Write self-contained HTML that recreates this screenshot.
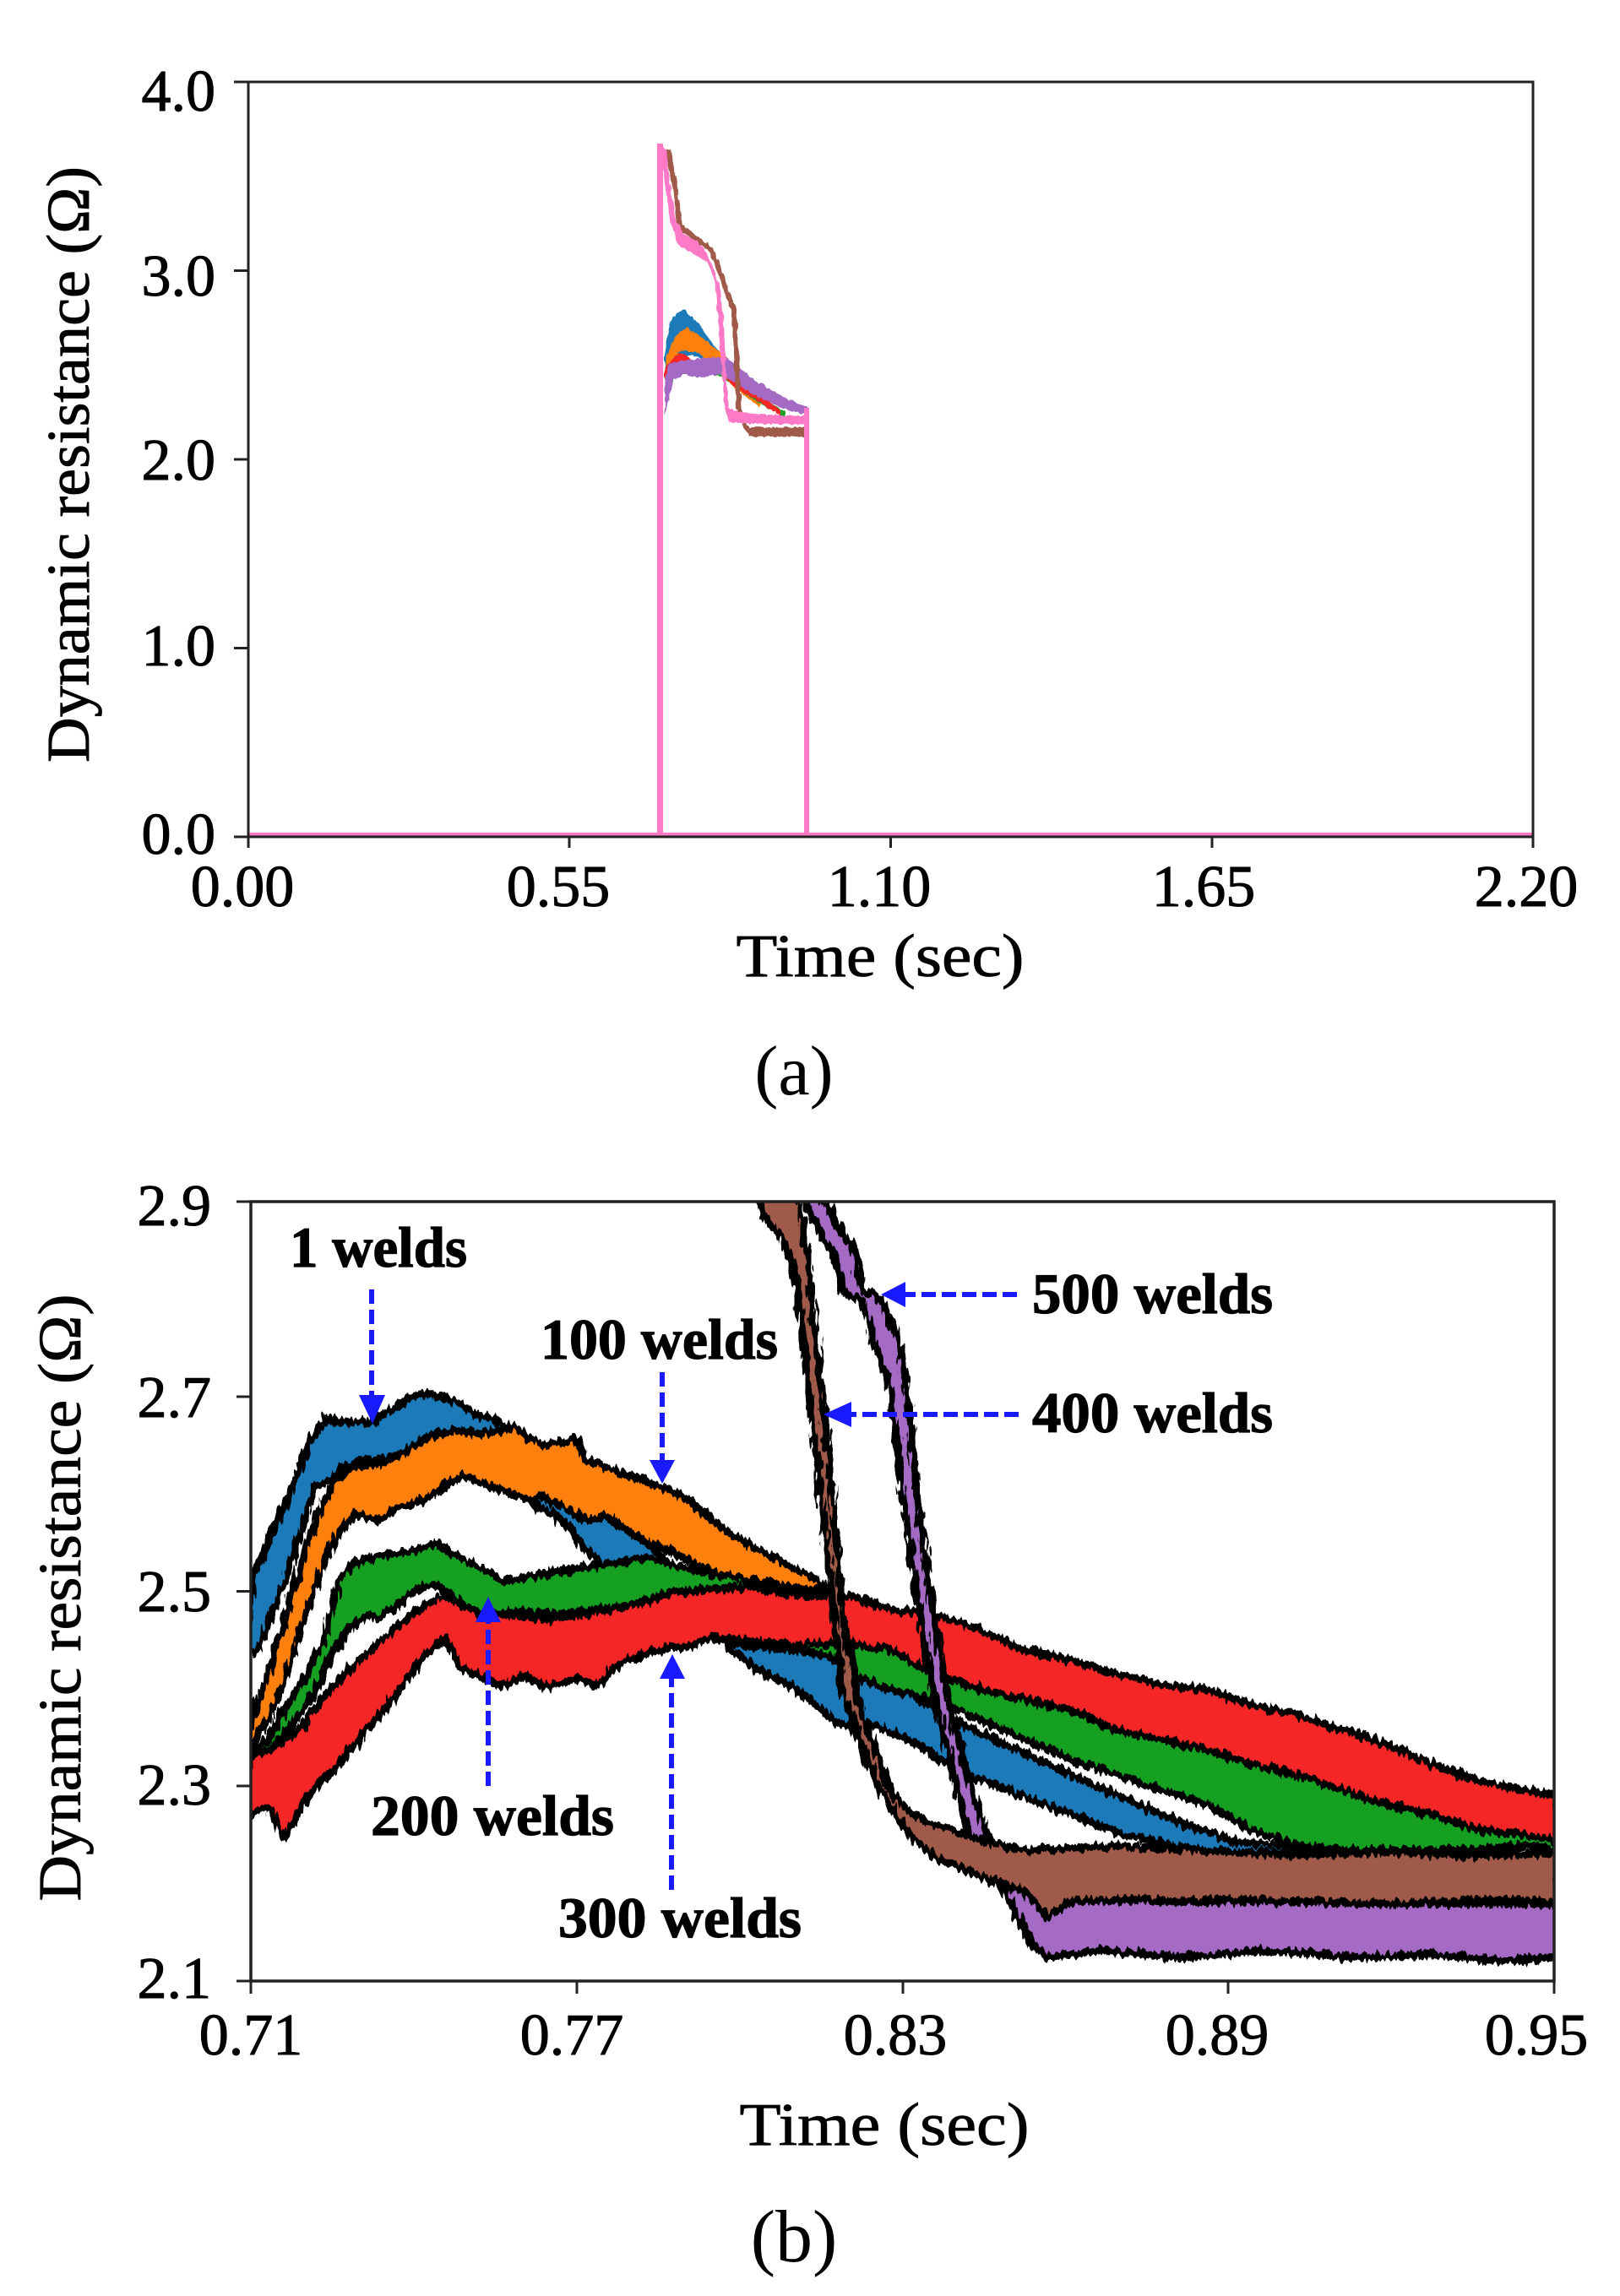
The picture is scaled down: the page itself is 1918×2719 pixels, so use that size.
<!DOCTYPE html>
<html><head><meta charset="utf-8"><style>html,body{margin:0;padding:0;background:#fff}svg{display:block}svg text{font-family:"Liberation Serif","Times New Roman",serif}</style></head>
<body>
<svg width="1918" height="2719" viewBox="0 0 1918 2719" xmlns="http://www.w3.org/2000/svg">
<defs>
<clipPath id="ca"><rect x="294" y="97" width="1521" height="894"/></clipPath>
<clipPath id="cb"><rect x="297" y="1423" width="1543" height="923"/></clipPath>
<filter id="jag" filterUnits="userSpaceOnUse" x="250" y="1380" width="1650" height="1000">
<feTurbulence type="fractalNoise" baseFrequency="0.22 0.05" numOctaves="2" seed="3" result="n"/>
<feDisplacementMap in="SourceGraphic" in2="n" scale="14" xChannelSelector="R" yChannelSelector="G"/>
</filter>
<filter id="jag2" filterUnits="userSpaceOnUse" x="700" y="100" width="400" height="500">
<feTurbulence type="fractalNoise" baseFrequency="0.3 0.1" numOctaves="1" seed="5" result="n"/>
<feDisplacementMap in="SourceGraphic" in2="n" scale="5" xChannelSelector="R" yChannelSelector="G"/>
</filter>
</defs>
<rect width="1918" height="2719" fill="#fff"/>

<!-- ============ PLOT A ============ -->
<g clip-path="url(#ca)">
<line x1="294" y1="988" x2="1815" y2="988" stroke="#ff7ac6" stroke-width="4"/>
<g filter="url(#jag2)">
<polygon fill="#1f7ab8" points="787,417 793,380 800,372 810,366 818,375 827,383 843,407 855,420 860,425 860,440 840,430 820,420 800,425 787,440"/>
<polygon fill="#ff8010" points="788,423 800,397 813,388 827,397 847,413 860,423 880,450 900,475 900,482 870,460 850,440 827,418 807,414 790,433 788,445"/>
<polygon fill="#16a020" points="787,445 800,428 820,432 853,428 870,447 900,470 930,488 930,495 900,478 870,458 853,445 820,440 800,447 787,470"/>
<polygon fill="#f52626" points="787,437 800,420 808,418 820,427 835,425 853,423 867,443 893,463 920,483 925,486 925,493 920,490 893,472 867,457 853,440 830,435 815,438 800,440 787,460"/>
<polygon fill="#a46ac4" points="787,450 793,430 810,427 843,423 860,423 873,433 893,450 927,470 957,483 957,492 927,484 893,468 873,455 853,443 827,447 810,443 797,450 787,492"/>
<polyline fill="none" stroke="#a05a48" stroke-width="6" points="791,177 798,215 805,268 822,281 842,296 850,315 862,350 869,367 872,430 875,483 882,505 889,512 952,512"/>
<rect x="887" y="506" width="66" height="11" fill="#a05a48"/>
<polygon fill="#ff7ac6" points="780,170 790,180 793,217 800,260 810,277 827,287 837,300 847,323 853,343 857,383 860,450 863,483 873,487 893,490 927,492 953,492 953,503 927,502 893,502 863,500 858,483 853,417 847,337 837,310 820,300 803,290 793,260 787,217 785,200"/>
</g>
<rect x="778" y="170" width="7" height="821" fill="#ff7ac6"/>
<rect x="952" y="483" width="6" height="508" fill="#ff7ac6"/>
</g>
<rect x="294" y="97" width="1521" height="894" fill="none" stroke="#222" stroke-width="3"/>
<g stroke="#222" stroke-width="3">
<line x1="277" y1="97" x2="294" y2="97"/><line x1="277" y1="320.5" x2="294" y2="320.5"/><line x1="277" y1="544" x2="294" y2="544"/><line x1="277" y1="767.5" x2="294" y2="767.5"/><line x1="277" y1="991" x2="294" y2="991"/>
<line x1="294" y1="991" x2="294" y2="1004"/><line x1="674" y1="991" x2="674" y2="1004"/><line x1="1054.5" y1="991" x2="1054.5" y2="1004"/><line x1="1435" y1="991" x2="1435" y2="1004"/><line x1="1815" y1="991" x2="1815" y2="1004"/>
</g>
<g font-size="70" fill="#000" stroke="#000" stroke-width="1" text-anchor="end">
<text x="255" y="131">4.0</text><text x="255" y="350">3.0</text><text x="255" y="568">2.0</text><text x="255" y="788">1.0</text><text x="255" y="1011">0.0</text>
</g>
<g font-size="70" fill="#000" stroke="#000" stroke-width="1" text-anchor="middle">
<text x="287" y="1073">0.00</text><text x="661" y="1073">0.55</text><text x="1041" y="1073">1.10</text><text x="1425" y="1073">1.65</text><text x="1807" y="1073">2.20</text>
</g>
<text x="1042" y="1156" font-size="72" text-anchor="middle" textLength="341" lengthAdjust="spacingAndGlyphs" stroke="#000" stroke-width="0.8">Time (sec)</text>
<text transform="translate(105,550) rotate(-90)" font-size="72" text-anchor="middle" textLength="706" lengthAdjust="spacingAndGlyphs" stroke="#000" stroke-width="0.8">Dynamic resistance (Ω)</text>
<text x="940" y="1296" font-size="84" text-anchor="middle">(a)</text>

<!-- ============ PLOT B ============ -->
<g clip-path="url(#cb)">
<g filter="url(#jag)" stroke="#000" stroke-width="9" stroke-linejoin="round">
<polygon fill="#1f7ab8" points="297,1872 317,1828 337,1783 352,1747 367,1707 386,1680 416,1685 441,1683 466,1667 496,1649 516,1654 536,1658 565,1676 585,1680 610,1700 660,1730 720,1790 780,1840 840,1890 900,1930 960,1950 1021,1975 1129,2037 1268,2102 1375,2149 1456,2180 1550,2190 1700,2195 1845,2195 1845,2240 1700,2235 1525,2205 1429,2195 1322,2170 1214,2128 1134,2098 1080,2062 1032,2042 993,2042 943,2000 893,1975 850,1940 800,1900 719,1857 695,1837 675,1810 655,1792 635,1783 600,1756 546,1742 501,1712 466,1725 446,1729 426,1729 406,1738 391,1752 372,1761 347,1845 327,1899 307,1952 292,1960"/>
<polygon fill="#ff8010" points="292,2050 317,1984 337,1917 357,1850 377,1792 396,1752 416,1738 446,1734 471,1725 496,1707 516,1698 546,1694 565,1698 595,1694 610,1689 625,1703 645,1712 680,1703 695,1729 719,1738 744,1747 769,1756 794,1765 819,1779 844,1801 869,1819 893,1832 918,1845 943,1859 968,1872 975,1880 968,1884 943,1880 893,1874 844,1863 819,1850 794,1837 769,1828 744,1814 719,1796 695,1801 670,1787 645,1774 620,1774 595,1765 570,1756 546,1747 521,1765 496,1779 471,1787 446,1801 421,1792 396,1823 372,1881 347,1961 322,2028 292,2077"/>
<polygon fill="#16a020" points="292,2077 317,2060 337,2024 362,1984 386,1935 401,1872 416,1854 436,1845 461,1841 486,1837 516,1828 536,1841 565,1854 595,1872 620,1868 645,1863 675,1859 705,1854 734,1850 764,1845 789,1850 819,1859 844,1863 869,1868 893,1872 943,1881 978,1886 1000,1905 1054,1925 1107,1932 1161,1950 1214,1974 1268,1986 1322,2003 1375,2015 1429,2021 1482,2039 1536,2051 1590,2069 1643,2086 1697,2110 1750,2128 1804,2140 1845,2146 1845,2191 1804,2185 1750,2191 1643,2191 1590,2191 1536,2185 1482,2167 1429,2137 1375,2120 1322,2102 1268,2084 1214,2060 1161,2037 1107,2013 1054,2001 1021,1989 978,1960 943,1955 893,1950 844,1940 794,1912 764,1905 734,1903 695,1908 645,1912 615,1908 585,1912 555,1908 536,1890 516,1877 496,1881 461,1908 446,1917 436,1912 416,1926 396,1952 372,2006 347,2042 322,2068 292,2095"/>
<polygon fill="#f52626" points="292,2082 327,2068 357,2046 386,2006 416,1975 446,1948 476,1921 506,1899 526,1890 546,1899 565,1912 595,1912 645,1917 695,1912 734,1903 769,1895 794,1886 844,1881 893,1879 943,1890 1000,1888 1054,1906 1107,1912 1161,1930 1214,1954 1268,1966 1322,1983 1375,1995 1429,2001 1482,2019 1536,2031 1590,2049 1643,2066 1697,2090 1750,2108 1804,2120 1845,2126 1845,2179 1804,2173 1750,2167 1697,2149 1643,2137 1590,2120 1536,2102 1482,2090 1429,2072 1375,2060 1322,2049 1268,2025 1214,2013 1161,2001 1107,1983 1054,1954 1000,1945 943,1948 893,1944 844,1939 819,1948 794,1952 769,1957 734,1970 705,1997 685,1988 645,1997 620,1984 595,1997 565,1984 546,1975 526,1939 506,1957 486,1984 456,2024 426,2060 396,2095 377,2113 357,2140 337,2175 317,2140 292,2149"/>
<polygon fill="#a46ac4" points="950,1410 965,1450 985,1480 1000,1533 1021,1539 1038,1598 1054,1645 1070,1776 1086,1894 1107,2013 1129,2102 1150,2185 1190,2240 1220,2300 1240,2318 1300,2310 1400,2318 1500,2310 1600,2318 1700,2315 1780,2322 1845,2318 1845,2255 1236,2250 1177,2185 1166,2167 1145,2102 1123,2013 1102,1894 1086,1776 1075,1657 1064,1586 1043,1539 1021,1527 1011,1479 990,1450 972,1410"/>
<polygon fill="#a05a48" points="894,1410 905,1440 925,1465 940,1500 948,1560 958,1649 968,1738 978,1828 988,1917 998,2006 1020,2070 1040,2115 1060,2150 1080,2175 1107,2200 1161,2222 1214,2240 1240,2270 1268,2252 1322,2250 1429,2250 1536,2252 1643,2255 1750,2250 1845,2252 1845,2195 1750,2197 1643,2193 1536,2197 1429,2191 1322,2186 1214,2191 1161,2179 1107,2161 1080,2149 1054,2120 1032,2060 1016,2013 1000,1924 990,1828 983,1738 973,1649 963,1560 958,1500 952,1460 943,1410"/>
</g>
</g>
<rect x="297" y="1423" width="1543" height="923" fill="none" stroke="#222" stroke-width="3.5"/>
<g stroke="#222" stroke-width="3">
<line x1="280" y1="1423" x2="297" y2="1423"/><line x1="280" y1="1654" x2="297" y2="1654"/><line x1="280" y1="1884.5" x2="297" y2="1884.5"/><line x1="280" y1="2115" x2="297" y2="2115"/><line x1="280" y1="2346" x2="297" y2="2346"/>
<line x1="297" y1="2346" x2="297" y2="2361"/><line x1="683" y1="2346" x2="683" y2="2361"/><line x1="1069" y1="2346" x2="1069" y2="2361"/><line x1="1454" y1="2346" x2="1454" y2="2361"/><line x1="1840" y1="2346" x2="1840" y2="2361"/>
</g>
<g font-size="70" fill="#000" stroke="#000" stroke-width="1" text-anchor="end">
<text x="250" y="1451">2.9</text><text x="250" y="1678">2.7</text><text x="250" y="1908">2.5</text><text x="250" y="2137">2.3</text><text x="250" y="2366">2.1</text>
</g>
<g font-size="70" fill="#000" stroke="#000" stroke-width="1" text-anchor="middle">
<text x="297" y="2433">0.71</text><text x="677" y="2433">0.77</text><text x="1060" y="2433">0.83</text><text x="1441" y="2433">0.89</text><text x="1819" y="2433">0.95</text>
</g>
<text x="1047" y="2540" font-size="72" text-anchor="middle" textLength="343" lengthAdjust="spacingAndGlyphs" stroke="#000" stroke-width="0.8">Time (sec)</text>
<text transform="translate(95,1892) rotate(-90)" font-size="72" text-anchor="middle" textLength="719" lengthAdjust="spacingAndGlyphs" stroke="#000" stroke-width="0.8">Dynamic resistance (Ω)</text>
<text x="940" y="2678" font-size="88" text-anchor="middle">(b)</text>

<!-- annotations -->
<g font-size="68" font-weight="bold" fill="#000" stroke="#000" stroke-width="1.2">
<text x="343" y="1500" textLength="210" lengthAdjust="spacingAndGlyphs">1 welds</text>
<text x="640" y="1609" textLength="281" lengthAdjust="spacingAndGlyphs">100 welds</text>
<text x="439" y="2173" textLength="288" lengthAdjust="spacingAndGlyphs">200 welds</text>
<text x="661" y="2294" textLength="288" lengthAdjust="spacingAndGlyphs">300 welds</text>
<text x="1222" y="1555" textLength="285" lengthAdjust="spacingAndGlyphs">500 welds</text>
<text x="1222" y="1696" textLength="285" lengthAdjust="spacingAndGlyphs">400 welds</text>
</g>
<g stroke="#1a1aff" stroke-width="6" stroke-dasharray="17 7" fill="none">
<line x1="440" y1="1527" x2="440" y2="1656"/>
<line x1="784" y1="1625" x2="784" y2="1731"/>
<line x1="578" y1="2115" x2="578" y2="1920"/>
<line x1="795" y1="2238" x2="795" y2="1988"/>
<line x1="1204" y1="1533" x2="1070" y2="1533"/>
<line x1="1206" y1="1675" x2="1006" y2="1675"/>
</g>
<g fill="#1a1aff">
<polygon points="425,1652 456,1652 441,1686"/>
<polygon points="769,1729 799,1729 784,1757"/>
<polygon points="563,1921 593,1921 578,1891"/>
<polygon points="781,1988 811,1988 796,1959"/>
<polygon points="1072,1518 1072,1548 1043,1533"/>
<polygon points="1008,1660 1008,1690 975,1675"/>
</g>
</svg>
</body></html>
